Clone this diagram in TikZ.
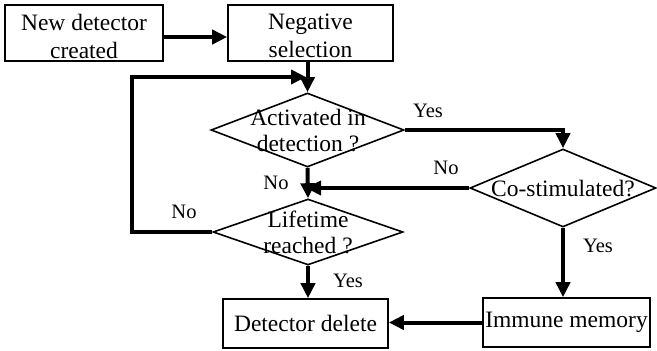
\documentclass[tikz,border=0pt]{standalone}
\usepackage{fontspec}
\setmainfont{Liberation Serif}
\usetikzlibrary{shapes.geometric,arrows.meta}
\begin{document}
\begin{tikzpicture}[x=1pt,y=-1pt,
  txt/.style={font=\fontsize{23.5}{26}\selectfont, align=center, inner sep=0pt},
  stepbox/.style={draw, line width=1.6pt, minimum height=#1, inner sep=0pt},
  stepbox/.default=56pt,
  boxtxt/.style={font=\fontsize{23.5}{28}\selectfont, align=center, inner sep=0pt},
  decision/.style={draw, shape=diamond, line width=1.6pt, inner sep=0pt},
  lbl/.style={font=\fontsize{20.5}{22}\selectfont, inner sep=0pt},
  conn/.style={line width=4pt, -{Triangle[length=15pt,width=14pt]}}]
\useasboundingbox (0,0) rectangle (657,351);

% process boxes
\node[stepbox, minimum width=158pt] (n1) at (84,33) {};
\node[stepbox, minimum width=165pt] (n2) at (310.5,33) {};
\node[boxtxt] (n1t) at (84,36) {New detector\\created};
\node[boxtxt] (n2t) at (310.5,36) {Negative\\selection};
\node[stepbox=49pt, minimum width=165pt, txt] (b3) at (305.5,323.5) {Detector delete};
\node[stepbox=49pt, minimum width=167pt, txt] (b4) at (566.5,322.5) {Immune memory};

% decisions
\node[decision, minimum width=193pt, minimum height=74pt] (d1) at (307.5,130) {};
\node[decision, minimum width=186pt, minimum height=78pt] (d2) at (563,188) {};
\node[decision, minimum width=190pt, minimum height=66pt] (d3) at (308,232) {};
\node[txt] (d1t) at (308,131) {Activated in\\detection ?};
\node[txt] (d2t) at (563,189) {Co-stimulated?};
\node[txt] (d3t) at (308,232) {Lifetime\\reached ?};

% junction points on the main vertical line
\coordinate (loopin) at (306,77);
\coordinate (noin) at (306,188);

% connectors
\draw[conn] ([yshift=-4pt]n1.east) -- ([yshift=-4pt]n2.west);
\draw[conn] (n2.south -| d1.north) -- (d1.north);
\draw[conn] (d1.east) -- (d1.east -| d2.north) -- (d2.north);
\draw[conn] (d2.west) -- (noin);
\draw[conn] (d1.south) -- (d3.north);
\draw[conn] (d3.west) -- ++(-80,0) |- (loopin);
\draw[conn] (d3.south) -- (d3.south |- b3.north);
\draw[conn] (d2.south) -- (d2.south |- b4.north);
\draw[conn] (b4.west) -- (b4.west -| b3.east);

% branch labels
\node[lbl] (y1) at (428,111) {Yes};
\node[lbl] (no2) at (446,168) {No};
\node[lbl] (no1) at (276,183) {No};
\node[lbl] (no3) at (184,212) {No};
\node[lbl] (y3) at (348,281) {Yes};
\node[lbl] (y2) at (598,246) {Yes};
\end{tikzpicture}
\end{document}
